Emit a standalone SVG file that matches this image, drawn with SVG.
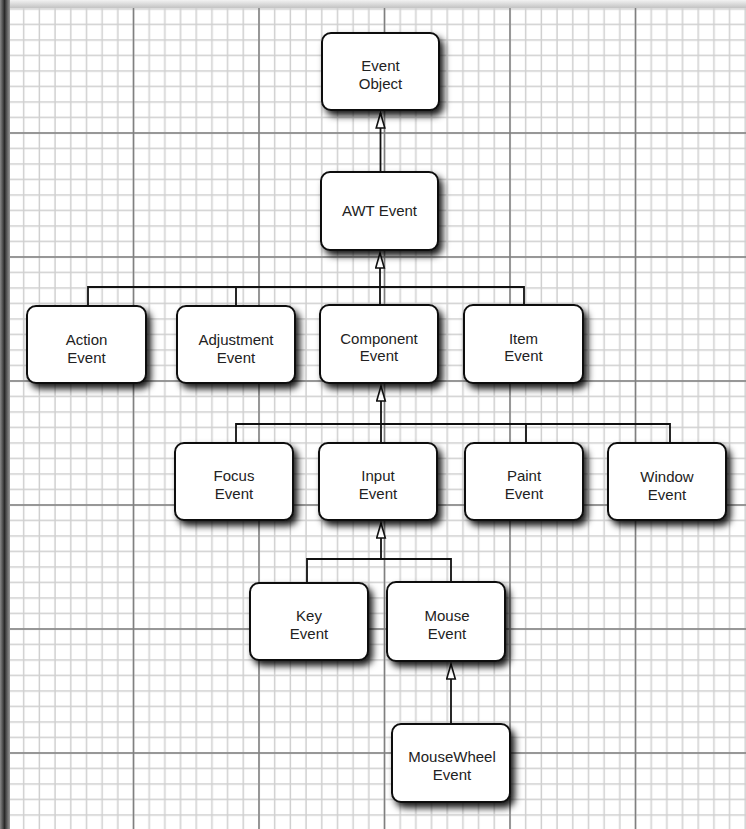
<svg xmlns="http://www.w3.org/2000/svg" width="746" height="829" viewBox="0 0 746 829">
<style>
.box{fill:#fff;stroke:#111;stroke-width:2;filter:url(#sh)}
.lbl{font-family:"Liberation Sans",Arial,sans-serif;font-size:15px;fill:#222;text-anchor:middle}
.con{fill:none;stroke:#111;stroke-width:1.8}
.arr{marker-end:url(#tri)}
.minor{stroke:#d0d0d0;stroke-width:1.5;fill:none}
.major{stroke:#808080;stroke-width:1.5;fill:none}
</style>
<defs>
<pattern id="minor" patternUnits="userSpaceOnUse" x="0.16" y="1.25" width="125.5" height="124">
<path class="minor" d="M7.84,0V124M23.53,0V124M39.22,0V124M54.91,0V124M70.59,0V124M86.28,0V124M101.97,0V124M117.66,0V124M0,7.75H125.5M0,23.25H125.5M0,38.75H125.5M0,54.25H125.5M0,69.75H125.5M0,85.25H125.5M0,100.75H125.5M0,116.25H125.5"/>
</pattern>
<linearGradient id="leftEdge" x1="0" y1="0" x2="1" y2="0">
<stop offset="0" stop-color="#888"/>
<stop offset="0.45" stop-color="#2a2a2a"/>
<stop offset="1" stop-color="#9a9a9a"/>
</linearGradient>
<linearGradient id="topEdge" x1="0" y1="0" x2="0" y2="1">
<stop offset="0" stop-color="#f2f2f2"/>
<stop offset="1" stop-color="#bdbdbd"/>
</linearGradient>
<filter id="sh" x="-20%" y="-20%" width="150%" height="150%">
<feDropShadow dx="4" dy="5" stdDeviation="3.5" flood-color="#000" flood-opacity="0.9"/>
</filter>
<marker id="tri" markerUnits="userSpaceOnUse" markerWidth="18" markerHeight="12" refX="16" refY="5.5" orient="auto">
<path d="M1,1.2L16,5.5L1,9.8Z" fill="#fff" stroke="#111" stroke-width="1.6"/>
</marker>
</defs>
<g id="background">
<rect x="0" y="0" width="746" height="829" fill="#f4f4f4"/>
<rect x="0" y="0" width="746" height="9" fill="url(#topEdge)"/>
<rect x="8" y="8" width="738" height="821" fill="#fff"/>
<rect x="8" y="8" width="738" height="821" fill="url(#minor)"/>
<path class="major" d="M133.5,8V829M259,8V829M384.5,8V829M510,8V829M635.5,8V829M8,133H746M8,257H746M8,381H746M8,505H746M8,629H746M8,753H746"/>
<rect x="0" y="0" width="10" height="829" fill="url(#leftEdge)"/>
</g>
<g id="connectors">
<path class="con arr" d="M380.5,172V113"/>
<path class="con arr" d="M380,305V253"/>
<path class="con" d="M88,306V287H524V305M236,287V306"/>
<path class="con arr" d="M381,443V386"/>
<path class="con" d="M236,443V424H670V443M526,424V443"/>
<path class="con arr" d="M381,559V523"/>
<path class="con" d="M307,583V559H451V582"/>
<path class="con arr" d="M451,724V664"/>
</g>
<g id="eventObject"><rect class="box" x="322" y="33" width="117" height="77" rx="9"/><text class="lbl" x="380.5" y="71">Event</text><text class="lbl" x="380.5" y="88.5">Object</text></g>
<g id="awtEvent"><rect class="box" x="321" y="172" width="117" height="78" rx="9"/><text class="lbl" x="379.5" y="215.5">AWT Event</text></g>
<g id="actionEvent"><rect class="box" x="27" y="306" width="119" height="77" rx="9"/><text class="lbl" x="86.5" y="345">Action</text><text class="lbl" x="86.5" y="362.5">Event</text></g>
<g id="adjustmentEvent"><rect class="box" x="177" y="306" width="118" height="77" rx="9"/><text class="lbl" x="236" y="345">Adjustment</text><text class="lbl" x="236" y="362.5">Event</text></g>
<g id="componentEvent"><rect class="box" x="320" y="305" width="118" height="78" rx="9"/><text class="lbl" x="379" y="343.5">Component</text><text class="lbl" x="379" y="361">Event</text></g>
<g id="itemEvent"><rect class="box" x="464" y="305" width="119" height="78" rx="9"/><text class="lbl" x="523.5" y="343.5">Item</text><text class="lbl" x="523.5" y="361">Event</text></g>
<g id="focusEvent"><rect class="box" x="175" y="443" width="118" height="77" rx="9"/><text class="lbl" x="234" y="481">Focus</text><text class="lbl" x="234" y="498.5">Event</text></g>
<g id="inputEvent"><rect class="box" x="319" y="443" width="118" height="77" rx="9"/><text class="lbl" x="378" y="481">Input</text><text class="lbl" x="378" y="498.5">Event</text></g>
<g id="paintEvent"><rect class="box" x="465" y="443" width="118" height="77" rx="9"/><text class="lbl" x="524" y="481">Paint</text><text class="lbl" x="524" y="498.5">Event</text></g>
<g id="windowEvent"><rect class="box" x="608" y="443" width="118" height="77" rx="9"/><text class="lbl" x="667" y="482">Window</text><text class="lbl" x="667" y="499.5">Event</text></g>
<g id="keyEvent"><rect class="box" x="250" y="583" width="118" height="77" rx="9"/><text class="lbl" x="309" y="621">Key</text><text class="lbl" x="309" y="638.5">Event</text></g>
<g id="mouseEvent"><rect class="box" x="387" y="582" width="118" height="79" rx="9"/><text class="lbl" x="447" y="621">Mouse</text><text class="lbl" x="447" y="638.5">Event</text></g>
<g id="mouseWheelEvent"><rect class="box" x="392" y="724" width="118" height="78" rx="9"/><text class="lbl" x="452" y="762">MouseWheel</text><text class="lbl" x="452" y="779.5">Event</text></g>
</svg>
